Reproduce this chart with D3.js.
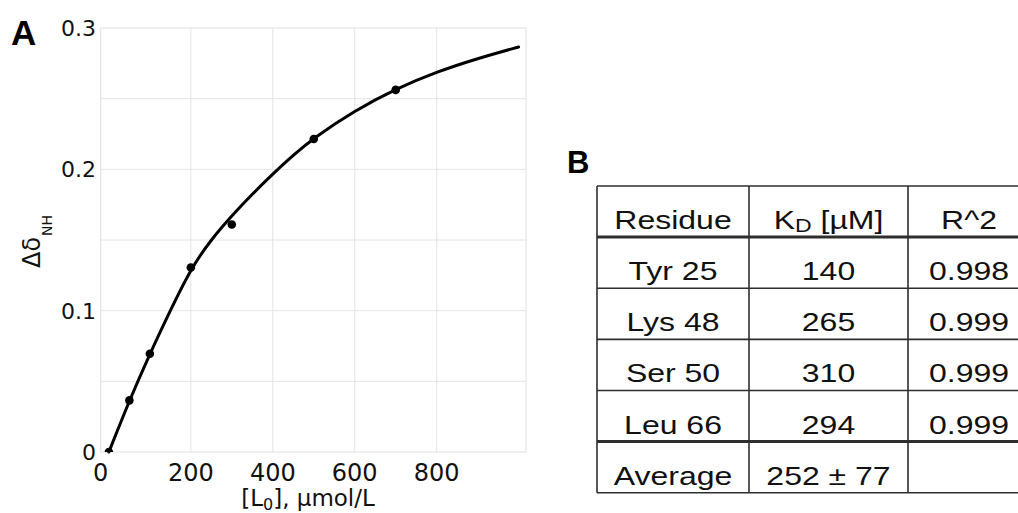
<!DOCTYPE html>
<html>
<head>
<meta charset="utf-8">
<script src="https://cdn.jsdelivr.net/npm/d3@7/dist/d3.min.js"></script>
<style>
  html, body { margin: 0; padding: 0; background: #fff; }
  svg { display: block; }
</style>
</head>
<body>
<svg id="chart" width="1018" height="513"></svg>
<script>
// ---------- Data ----------
// Measured titration points: ligand concentration [L0] (µmol/L) and Δδ_NH
const pointX = [0, 50, 100, 200, 300, 500, 700];
const pointY = [0, 0.0365, 0.0695, 0.1305, 0.161, 0.2215, 0.2562];

// Fitted curve
const curveX = [0, 50, 100, 150, 200, 250, 300, 350, 400, 450, 500, 600, 700, 800, 900, 1000];
const curveY = [0, 0.0365, 0.0695, 0.1002, 0.1298, 0.1505, 0.1672, 0.1825, 0.1968, 0.2100, 0.2222, 0.2415, 0.2570, 0.2690, 0.2785, 0.2866];

// Axis ticks
const xTicks = [0, 200, 400, 600, 800];
const xTickLabels = ["0", "200", "400", "600", "800"];
const yTicks = [0, 0.1, 0.2, 0.3];
const yTickLabels = ["0", "0.1", "0.2", "0.3"];
const yGrid = [0.05, 0.1, 0.15, 0.2, 0.25];
const xGrid = [200, 400, 600, 800];

// Table B
const tableHeader = ["Residue", "K_D [µM]", "R^2"];
const residues = ["Tyr 25", "Lys 48", "Ser 50", "Leu 66", "Average"];
const kdValues = ["140", "265", "310", "294", "252 ± 77"];
const r2Values = ["0.998", "0.999", "0.999", "0.999", ""];

// ---------- Chart A ----------
const svg = d3.select("#chart");
svg.append("rect").attr("width", 1018).attr("height", 513).attr("fill", "#fff");

const x = d3.scaleLinear().domain([-20, 1018]).range([100.7, 526]);
const y = d3.scaleLinear().domain([0, 0.3]).range([452, 28]);

const gA = svg.append("g");

// clip for plot area
svg.append("defs").append("clipPath").attr("id", "plotclip")
  .append("rect")
  .attr("x", x.range()[0]).attr("y", y.range()[1])
  .attr("width", x.range()[1] - x.range()[0])
  .attr("height", y.range()[0] - y.range()[1]);

// grid
const gridColor = "#e4e4e4";
gA.selectAll("line.yg").data(yGrid).join("line")
  .attr("x1", x.range()[0]).attr("x2", x.range()[1])
  .attr("y1", d => y(d)).attr("y2", d => y(d))
  .attr("stroke", gridColor).attr("stroke-width", 1);
gA.selectAll("line.xg").data(xGrid).join("line")
  .attr("y1", y.range()[0]).attr("y2", y.range()[1])
  .attr("x1", d => x(d)).attr("x2", d => x(d))
  .attr("stroke", gridColor).attr("stroke-width", 1);
// frame
gA.append("rect")
  .attr("x", x.range()[0]).attr("y", y.range()[1])
  .attr("width", x.range()[1] - x.range()[0])
  .attr("height", y.range()[0] - y.range()[1])
  .attr("fill", "none").attr("stroke", "#e0e0e0").attr("stroke-width", 1);

// curve
const curveData = curveX.map((v, i) => [v, curveY[i]]);
const line = d3.line().x(d => x(d[0])).y(d => y(d[1])).curve(d3.curveBasis);
gA.append("path").datum(curveData)
  .attr("d", line)
  .attr("fill", "none").attr("stroke", "#000").attr("stroke-width", 3)
  .attr("stroke-linecap", "round");

// points
const pts = pointX.map((v, i) => [v, pointY[i]]);
gA.append("g").attr("clip-path", "url(#plotclip)")
  .selectAll("circle").data(pts).join("circle")
  .attr("cx", d => x(d[0])).attr("cy", d => y(d[1])).attr("r", 4.3)
  .attr("fill", "#000");

// y tick labels
gA.selectAll("text.yt").data(yTicks).join("text")
  .attr("x", 96).attr("y", d => y(d)).attr("dy", "0.36em")
  .attr("text-anchor", "end")
  .attr("font-family", "DejaVu Sans").attr("font-size", 22).attr("fill", "#111")
  .text((d, i) => yTickLabels[i]);

// x tick labels (the "0" sits at the left edge of the frame in the reference)
gA.selectAll("text.xt").data(xTicks).join("text")
  .attr("x", d => d === 0 ? x.range()[0] : x(d)).attr("y", 480.5)
  .attr("text-anchor", "middle")
  .attr("font-family", "DejaVu Sans").attr("font-size", 24).attr("fill", "#111")
  .text((d, i) => xTickLabels[i]);

// x axis title
const xt = gA.append("text").attr("x", 308).attr("y", 506).attr("text-anchor", "middle")
  .attr("font-family", "DejaVu Sans").attr("font-size", 23).attr("fill", "#111");
xt.append("tspan").text("[L");
xt.append("tspan").attr("font-size", 16).attr("dy", 4).text("0");
xt.append("tspan").attr("dy", -4).text("], µmol/L");

// y axis title
const yt = gA.append("text").attr("transform", "translate(40,268) rotate(-90)")
  .attr("font-family", "DejaVu Sans").attr("font-size", 24).attr("fill", "#111");
yt.append("tspan").text("Δδ");
yt.append("tspan").attr("font-size", 14).attr("dy", 12).attr("dx", 1).text("NH");

// panel letter A
svg.append("text").attr("x", 11).attr("y", 45)
  .attr("font-family", "Liberation Sans").attr("font-weight", "bold").attr("font-size", 35)
  .attr("fill", "#000").text("A");

// ---------- Table B ----------
svg.append("text").attr("x", 567).attr("y", 173)
  .attr("font-family", "Liberation Sans").attr("font-weight", "bold").attr("font-size", 31)
  .attr("fill", "#000").text("B");

const colEdges = [597, 749, 908, 1030];
const nRows = residues.length + 1;
const rowY = d3.scaleLinear().domain([0, nRows]).range([186, 492.7]);
const gB = svg.append("g");
const lineColor = "#2e2e2e";

// horizontal lines
d3.range(nRows + 1).forEach(i => {
  const thick = (i === 1 || i === nRows - 1) ? 3 : 1.6;
  gB.append("line")
    .attr("x1", colEdges[0]).attr("x2", colEdges[3])
    .attr("y1", rowY(i)).attr("y2", rowY(i))
    .attr("stroke", lineColor).attr("stroke-width", thick);
});
// vertical lines
colEdges.forEach(cx => {
  gB.append("line")
    .attr("x1", cx).attr("x2", cx)
    .attr("y1", rowY(0)).attr("y2", rowY(nRows))
    .attr("stroke", lineColor).attr("stroke-width", 1.6);
});

const colCenters = colEdges.slice(0, 3).map((c, i) => (c + colEdges[i + 1]) / 2);
function cellText(col, row, txt) {
  const t = gB.append("text")
    .attr("transform", `translate(${colCenters[col]},${rowY(row + 1) - 8}) scale(1.28,1)`)
    .attr("text-anchor", "middle")
    .attr("font-family", "Liberation Sans").attr("font-size", 25).attr("fill", "#111");
  if (txt.includes("_D")) {
    const parts = txt.split("_D");
    t.append("tspan").text(parts[0]);
    t.append("tspan").attr("font-size", 18).attr("dy", 3).text("D");
    t.append("tspan").attr("dy", -3).text(parts[1]);
  } else {
    t.text(txt);
  }
}
tableHeader.forEach((h, c) => cellText(c, 0, h));
residues.forEach((r, i) => {
  cellText(0, i + 1, r);
  cellText(1, i + 1, kdValues[i]);
  if (r2Values[i]) cellText(2, i + 1, r2Values[i]);
});
</script>
</body>
</html>
